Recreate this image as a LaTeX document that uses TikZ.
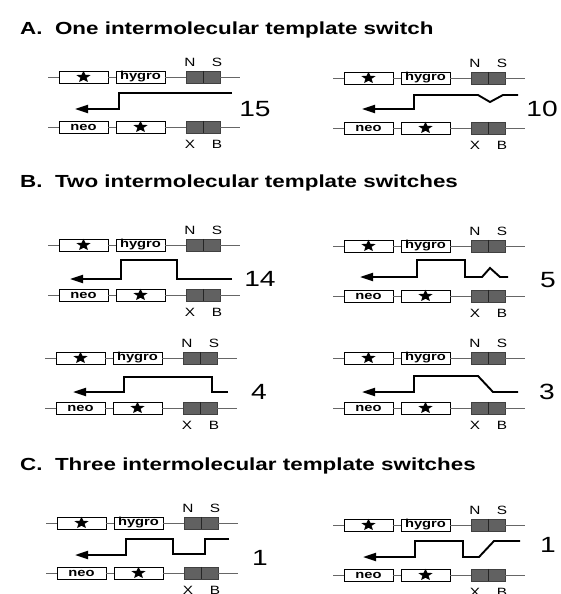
\documentclass[tikz,border=0pt]{standalone}
\usepackage{fontspec}
\setmainfont{Liberation Sans}
\usepackage{graphicx}
\usetikzlibrary{arrows.meta, shapes.geometric}
\tikzstyle{gene} = [draw, fill=white, rectangle, line width=0.7pt,
    minimum width=49pt, minimum height=12pt, inner sep=0pt,
    font=\bfseries\fontsize{11.5}{12}\selectfont]
\tikzstyle{starmark} = [star, star points=5, star point ratio=2.3, fill=black,
    inner sep=0pt, minimum size=12.5pt, xscale=1.2]
\tikzstyle{site} = [draw=black!75, fill=black!62, rectangle, line width=0.5pt,
    minimum width=34pt, minimum height=12pt, inner sep=0pt]
\tikzstyle{dna} = [draw=black!60, line width=0.6pt]
\tikzstyle{trace} = [line width=1.9pt, -{Triangle[length=13pt,width=8pt]}]
\tikzstyle{enz} = [inner sep=0pt, font=\fontsize{12}{12}\selectfont]
\tikzstyle{count} = [inner sep=0pt, font=\fontsize{22}{24}\selectfont]
\tikzstyle{title} = [inner sep=0pt, anchor=base west,
    font=\bfseries\fontsize{17.5}{20}\selectfont]
\newcommand{\wide}[1]{\scalebox{1.28}[1]{#1}}
% one pair of vectors: name, origin, trace, count, count position
\newcommand{\switchpair}[5]{%
  \begin{scope}[shift={(#2)}]
    \coordinate (#1-l) at (0,0);
    \coordinate (#1-r) at (192,0);
    \node [gene] (#1-star) at (35.5,0) {};
    \node [starmark] (#1-mark) at (#1-star) {};
    \node [gene] (#1-hygro) at (92.5,0) {\wide{hygro}};
    \node [site] (#1-ns) at (155,0) {};
    \draw [dna] (#1-l) -- (#1-star) -- (#1-hygro) -- (#1-ns) -- (#1-r);
    \draw [black!85, line width=0.5pt] (#1-ns.north) -- (#1-ns.south);
    \node [enz] (#1-n) at (142,-15) {\wide{N}};
    \node [enz] (#1-s) at (169,-15) {\wide{S}};
    \coordinate (#1-bl) at (0,50);
    \coordinate (#1-br) at (192,50);
    \node [gene] (#1-neo) at (35.5,50) {\wide{neo}};
    \node [gene] (#1-star2) at (92.5,50) {};
    \node [starmark] (#1-mark2) at (#1-star2) {};
    \node [site] (#1-xb) at (155,50) {};
    \draw [dna] (#1-bl) -- (#1-neo) -- (#1-star2) -- (#1-xb) -- (#1-br);
    \draw [black!85, line width=0.5pt] (#1-xb.north) -- (#1-xb.south);
    \node [enz] (#1-x) at (142,67) {\wide{X}};
    \node [enz] (#1-b) at (169,67) {\wide{B}};
    \draw [trace] #3;
    \node [count] (#1-num) at (#5) {\wide{#4}};
  \end{scope}}

\begin{document}
\begin{tikzpicture}[x=1pt, y=-1pt]
    \useasboundingbox (0,0) rectangle (560,594);
    \node [title] (ta) at (20,35) {\wide{A.~~One intermolecular template switch}};
    \node [title] (tb) at (20,187) {\wide{B.~~Two intermolecular template switches}};
    \node [title] (tc) at (20,470) {\wide{C.~~Three intermolecular template switches}};

    \switchpair{a1}{48,77}{(184,16) -- (71,16) -- (71,32) -- (27,32)}{15}{207,32}
    \switchpair{a2}{333,78}{(185,17) -- (170,17) -- (157,24) -- (145,17) -- (81,17) -- (81,31) -- (29,31)}{10}{209,31}

    \switchpair{b1}{48,245}{(184,34) -- (129,34) -- (129,15) -- (73,15) -- (73,34) -- (22,34)}{14}{212,34}
    \switchpair{b2}{333,246}{(175,31) -- (167,31) -- (157,22) -- (149,31) -- (132,31) -- (132,14) -- (84,14) -- (84,31) -- (27,31)}{5}{215,34}
    \switchpair{b3}{45,358}{(183,34) -- (167,34) -- (167,19) -- (79,19) -- (79,34) -- (28,34)}{4}{214,34}
    \switchpair{b4}{333,358}{(185,34) -- (160,34) -- (145,18) -- (81,18) -- (81,34) -- (29,34)}{3}{214,34}

    \switchpair{c1}{46,523}{(183,16) -- (159,16) -- (159,31) -- (127,31) -- (127,16) -- (80,16) -- (80,32) -- (29,32)}{1}{214,35}
    \switchpair{c2}{333,525}{(187,16) -- (161,16) -- (146,32) -- (130,32) -- (130,16) -- (82,16) -- (82,32) -- (30,32)}{1}{215,20}
\end{tikzpicture}
\end{document}
